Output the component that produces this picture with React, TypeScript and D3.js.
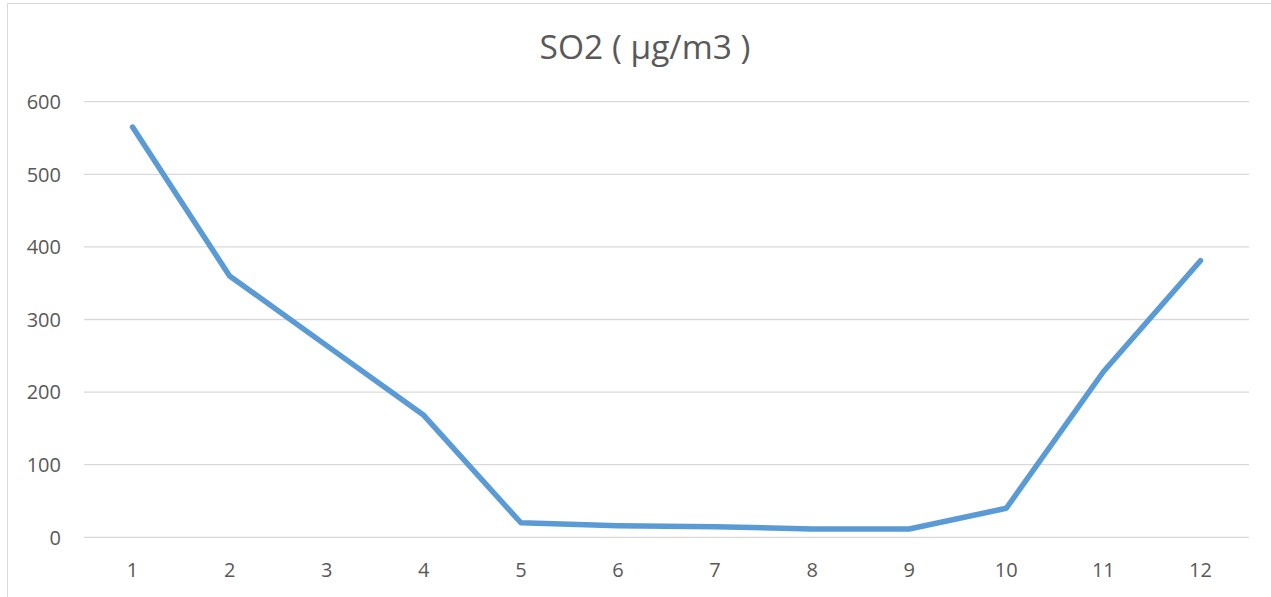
import React from "react";
import * as d3 from "d3";

const months: string[] = ["1", "2", "3", "4", "5", "6", "7", "8", "9", "10", "11", "12"];
const so2Values: number[] = [565, 360, 264, 168, 20, 16, 14.5, 11.5, 11.5, 40, 228, 381];
const yTicks: number[] = [0, 100, 200, 300, 400, 500, 600];
const title = "SO2 ( μg/m3 )";

const W = 1271;
const H = 597;
const plotLeft = 84;
const plotRight = 1249;
const plotTop = 101.7;
const plotBottom = 537.3;

export default function App() {
  const x = d3.scaleBand<string>().domain(months).range([plotLeft, plotRight]);
  const y = d3.scaleLinear().domain([0, 600]).range([plotBottom, plotTop]);
  const cx = (m: string) => (x(m) as number) + x.bandwidth() / 2;
  const line = d3
    .line<number>()
    .x((_, i) => cx(months[i]))
    .y((d) => y(d));
  const font = "'Open Sans', sans-serif";
  return (
    <div style={{ position: "absolute", left: 0, top: 0 }}>
      <svg width={W} height={H} style={{ display: "block", background: "#fff" }}>
        <rect x={7.5} y={3.5} width={W} height={H} fill="#fff" stroke="#d9d9d9" strokeWidth={1} />
        <text x={645} y={59} textAnchor="middle" fontFamily={font} fontSize={33.5} fill="#595959">
          {title}
        </text>
        {yTicks.map((t) => (
          <g key={t}>
            <line x1={plotLeft} x2={plotRight} y1={y(t)} y2={y(t)} stroke="#d9d9d9" strokeWidth={1.3} />
            <text
              x={61}
              y={y(t)}
              dy="0.36em"
              textAnchor="end"
              fontFamily={font}
              fontSize={20}
              fill="#595959"
            >
              {t}
            </text>
          </g>
        ))}
        {months.map((m) => (
          <text key={m} x={cx(m)} y={577} textAnchor="middle" fontFamily={font} fontSize={20} fill="#595959">
            {m}
          </text>
        ))}
        <path
          d={line(so2Values) || ""}
          fill="none"
          stroke="#5B9BD5"
          strokeWidth={5.5}
          strokeLinejoin="round"
          strokeLinecap="round"
        />
      </svg>
    </div>
  );
}
